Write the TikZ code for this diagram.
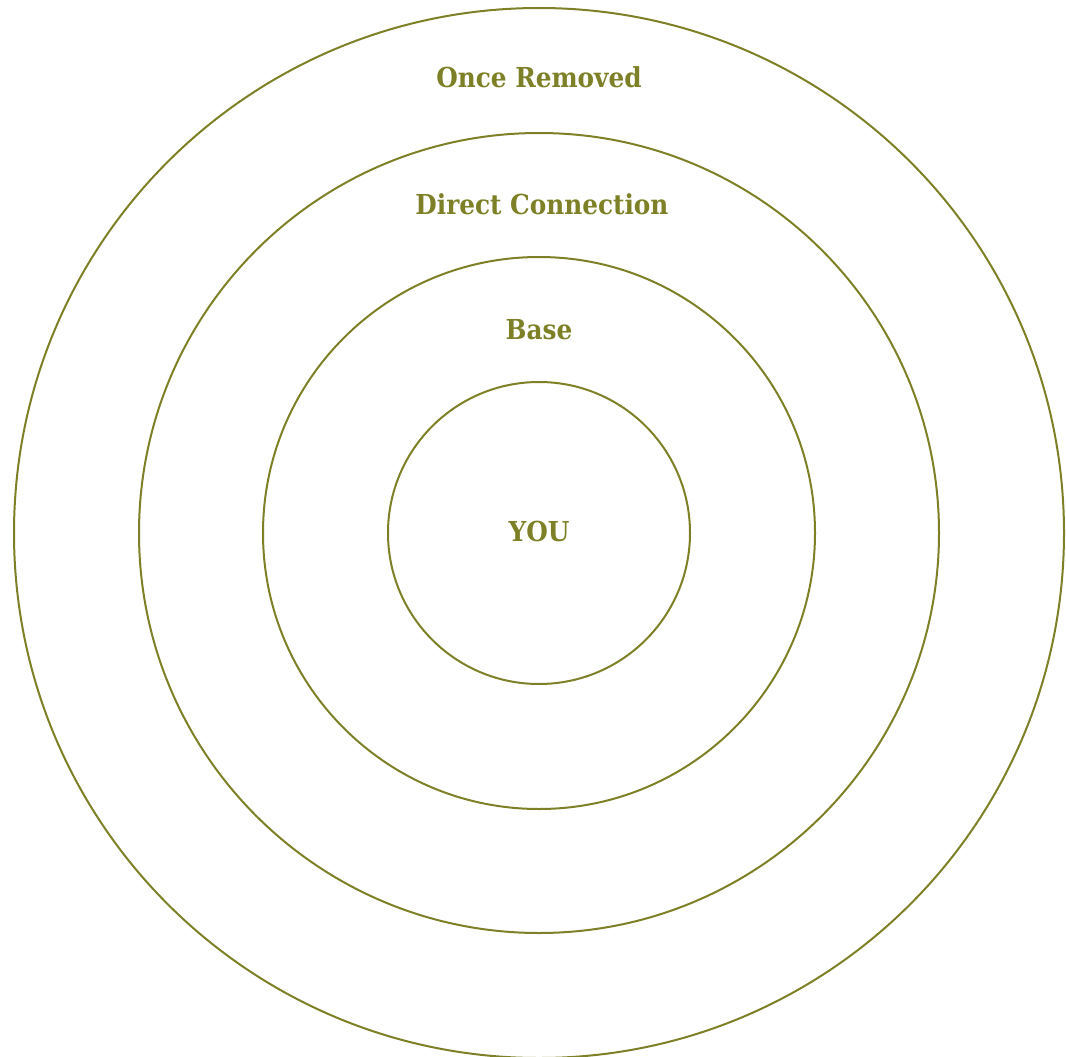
\documentclass[tikz,border=0pt]{standalone}
\usepackage{fontspec}
\setmainfont{DejaVu Serif Condensed}
\usetikzlibrary{positioning}
\definecolor{olivetone}{RGB}{125,128,38}

\begin{document}
\begin{tikzpicture}[
    x=1pt, y=-1pt,
    ring/.style={draw=olivetone, line width=2pt, circle, inner sep=0pt},
    lbl/.style={text=olivetone, font=\bfseries\fontsize{27.5}{33}\selectfont, inner sep=0pt}
]
\useasboundingbox (0,0) rectangle (1066,1057);
\node[ring, minimum size=1050pt] (outer) at (539,533) {};
\node[ring, minimum size=800pt] (direct) at (539,533) {};
\node[ring, minimum size=552pt] (base) at (539,533) {};
\node[ring, minimum size=302pt] (you) at (539,533) {};

\node[lbl] (lblouter) at (539,77) {Once Removed};
\node[lbl] (lbldirect) at (542,204) {Direct Connection};
\node[lbl] (lblbase) at (539,330) {Base};
\node[lbl] (lblyou) at (539,531) {YOU};
\end{tikzpicture}
\end{document}
